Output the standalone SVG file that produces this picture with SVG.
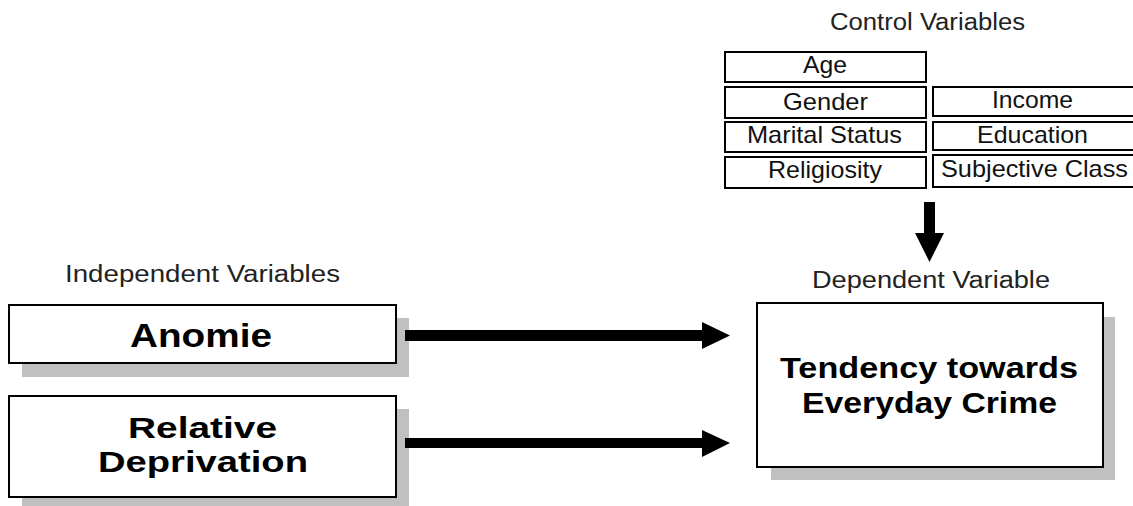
<svg xmlns="http://www.w3.org/2000/svg" width="1133" height="506" viewBox="0 0 1133 506">
<style>
.bg{fill:#ffffff}
.shadow{fill:#c0c0c0}
.box{fill:#ffffff;stroke:#000000;stroke-width:2}
.small{fill:#ffffff;stroke:#000000;stroke-width:2}
.lbl{font-family:"Liberation Sans",Arial,sans-serif;font-size:23px;fill:#222222}
.ctl{font-family:"Liberation Sans",Arial,sans-serif;font-size:24px;fill:#111111;text-anchor:middle}
.big{font-family:"Liberation Sans",Arial,sans-serif;font-size:34px;font-weight:bold;fill:#000000;text-anchor:middle}
.big2{font-family:"Liberation Sans",Arial,sans-serif;font-size:30px;font-weight:bold;fill:#000000;text-anchor:middle}
.mid{font-family:"Liberation Sans",Arial,sans-serif;font-size:30px;font-weight:bold;fill:#000000;text-anchor:middle}
.arrow{fill:#000000}
</style>
<rect class="bg" x="0" y="0" width="1133" height="506"/>

<text class="lbl" x="830" y="30" textLength="195" lengthAdjust="spacingAndGlyphs">Control Variables</text>
<text class="lbl" x="65" y="282" textLength="275" lengthAdjust="spacingAndGlyphs">Independent Variables</text>
<text class="lbl" x="812" y="288" textLength="238" lengthAdjust="spacingAndGlyphs">Dependent Variable</text>

<g id="age"><rect class="small" x="725" y="52" width="201" height="30"/><text class="ctl" x="825" y="73" textLength="44" lengthAdjust="spacingAndGlyphs">Age</text></g>
<g id="gender"><rect class="small" x="725" y="87" width="201" height="31"/><text class="ctl" x="825.5" y="110" textLength="85" lengthAdjust="spacingAndGlyphs">Gender</text></g>
<g id="marital"><rect class="small" x="725" y="122" width="201" height="30"/><text class="ctl" x="824.5" y="143" textLength="155" lengthAdjust="spacingAndGlyphs">Marital Status</text></g>
<g id="religiosity"><rect class="small" x="725" y="157" width="201" height="31"/><text class="ctl" x="825" y="178" textLength="114" lengthAdjust="spacingAndGlyphs">Religiosity</text></g>
<g id="income"><rect class="small" x="933" y="87" width="205" height="29"/><text class="ctl" x="1032.5" y="108" textLength="81" lengthAdjust="spacingAndGlyphs">Income</text></g>
<g id="education"><rect class="small" x="933" y="122" width="205" height="28"/><text class="ctl" x="1032.5" y="143" textLength="111" lengthAdjust="spacingAndGlyphs">Education</text></g>
<g id="subjective"><rect class="small" x="933" y="155" width="205" height="32"/><text class="ctl" x="1034.5" y="177" textLength="187" lengthAdjust="spacingAndGlyphs">Subjective Class</text></g>

<g id="anomie">
<rect class="shadow" x="22" y="318" width="387" height="59"/>
<rect class="box" x="9" y="305" width="387" height="58"/>
<text class="big" x="201" y="347" textLength="142" lengthAdjust="spacingAndGlyphs">Anomie</text>
</g>
<g id="deprivation">
<rect class="shadow" x="22" y="409" width="387" height="100"/>
<rect class="box" x="9" y="396" width="387" height="101"/>
<text class="big2" x="202.5" y="438" textLength="149" lengthAdjust="spacingAndGlyphs">Relative</text>
<text class="big2" x="203" y="472" textLength="210" lengthAdjust="spacingAndGlyphs">Deprivation</text>
</g>
<g id="crime">
<rect class="shadow" x="771" y="317" width="344" height="163"/>
<rect class="box" x="757" y="303" width="346" height="164"/>
<text class="mid" x="929" y="378" textLength="298" lengthAdjust="spacingAndGlyphs">Tendency towards</text>
<text class="mid" x="929.5" y="413" textLength="255" lengthAdjust="spacingAndGlyphs">Everyday Crime</text>
</g>

<g id="connectors">
<polygon class="arrow" points="405,330 702,330 702,322 730,335.5 702,349 702,341 405,341"/>
<polygon class="arrow" points="405,438 702,438 702,430 730,443 702,457 702,448 405,448"/>
<polygon class="arrow" points="924,202 935,202 935,233 944,233 929.5,262 915,233 924,233"/>
</g>
</svg>
